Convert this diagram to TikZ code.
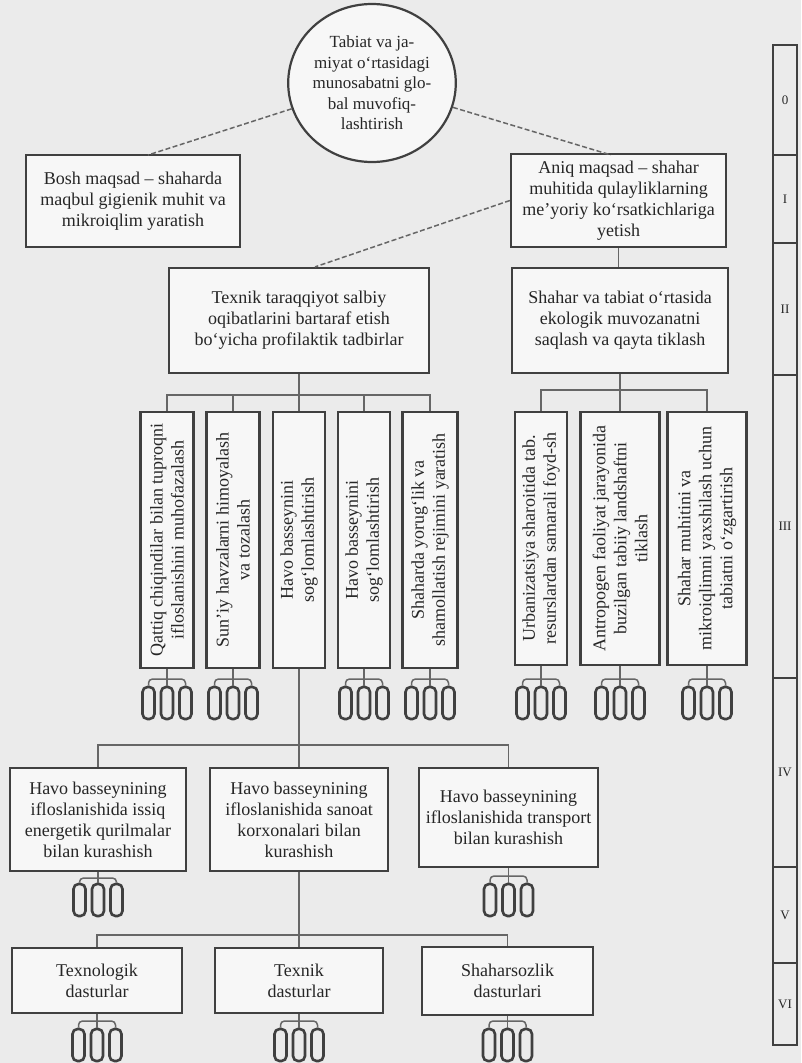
\documentclass[tikz,border=0pt]{standalone}
\usepackage{fontspec}
\setmainfont{Liberation Serif}
\usetikzlibrary{calc,shapes.geometric}
\newcommand\mytrip[5]{%
  \coordinate (#1j) at (#2,#4);
  \node[oval] (#1a) at (#2-18.5,#5) {};
  \node[oval] (#1b) at (#2,#5) {};
  \node[oval] (#1d) at (#2+18.5,#5) {};
  \draw[conn] (#3) -- (#1j);
  \draw[conn, rounded corners=4pt] (#1a.north) |- (#1j) -| (#1d.north);
  \draw[conn] (#1j) -- (#1b.north);
}
\begin{document}
\begin{tikzpicture}[x=1pt,y=-1pt,
  box/.style={draw=black!75, line width=2.2pt, fill=black!3, rectangle, inner sep=2pt, align=center, font=\fontsize{18}{21}\selectfont, text=black!85},
  vbox/.style={box, rotate=90, minimum height=53},
  conn/.style={draw=black!60, line width=1.5pt},
  dconn/.style={conn, dash pattern=on 5pt off 2.5pt},
  oval/.style={draw=black!75, line width=2.6pt, rounded corners=5pt, minimum width=12, minimum height=32, inner sep=0pt},
  scl/.style={draw=black!75, line width=2pt, minimum width=24, inner sep=0pt, font=\fontsize{13}{15}\selectfont, text=black!85}]
\fill[black!8] (0,0) rectangle (801,1063);
\useasboundingbox (0,0) rectangle (801,1063);

% level 0
\node[draw=black!75, line width=2.2pt, fill=black!3, ellipse, minimum width=136, minimum height=158, inner sep=0pt, align=center, font=\fontsize{17}{20.5}\selectfont, text=black!85] (c0) at (372,83) {Tabiat va ja-\\ miyat o‘rtasidagi\\ munosabatni glo-\\ bal muvofiq-\\ lashtirish};

% level I
\node[box, minimum width=214, minimum height=92] (bm) at (133,201) {Bosh maqsad – shaharda\\ maqbul gigienik muhit va\\ mikroiqlim yaratish};
\node[box, minimum width=215, minimum height=93] (am) at (618.5,200.5) {Aniq maqsad – shahar\\ muhitida qulayliklarning\\ me’yoriy ko‘rsatkichlariga\\ yetish};

% level II
\node[box, minimum width=260, minimum height=105] (tt) at (299,320.5) {Texnik taraqqiyot salbiy\\ oqibatlarini bartaraf etish\\ bo‘yicha profilaktik tadbirlar};
\node[box, minimum width=216, minimum height=105] (sb) at (620,320.5) {Shahar va tabiat o‘rtasida\\ ekologik muvozanatni\\ saqlash va qayta tiklash};

% dashed connectors
\coordinate (lbt) at (148,155);
\coordinate (rbt) at (611,155);
\coordinate (x315) at (315,0);
\draw[dconn] (c0) -- (lbt);
\draw[dconn] (c0) -- (rbt);
\draw[dconn] (am.west) -- (tt.north -| x315);
\draw[conn] (am.south) -- (am.south |- sb.north);

% level III
\node[vbox, minimum width=256] (v1) at (167,540) {Qattiq chiqindilar bilan tuproqni\\ ifloslanishini muhofazalash};
\node[vbox, minimum width=256] (v2) at (233,540) {Sun’iy havzalarni himoyalash\\ va tozalash};
\node[vbox, minimum width=256, minimum height=52] (v3) at (299,540) {Havo basseynini\\ sog‘lomlashtirish};
\node[vbox, minimum width=256, minimum height=52] (v4) at (364,540) {Havo basseynini\\ sog‘lomlashtirish};
\node[vbox, minimum width=256, minimum height=55] (v5) at (430,540) {Shaharda yorug‘lik va\\ shamollatish rejimini yaratish};
\node[vbox, minimum width=253, minimum height=52] (v6) at (541,538.5) {Urbanizatsiya sharoitida tab.\\ resurslardan samarali foyd-sh};
\node[vbox, minimum width=253, minimum height=79] (v7) at (620,538.5) {Antropogen faoliyat jarayonida\\ buzilgan tabiiy landshaftni\\ tiklash};
\node[vbox, minimum width=253, minimum height=79] (v8) at (707,538.5) {Shahar muhitini va\\ mikroiqlimni yaxshilash uchun\\ tabiatni o‘zgartirish};

\coordinate (bl) at (299,395);
\draw[conn] (tt.south) -- (bl);
\draw[conn] (v1.east) |- (bl) -| (v5.east);
\draw[conn] (v2.east) -- (v2.east |- bl);
\draw[conn] (v4.east) -- (v4.east |- bl);
\draw[conn] (bl) -- (v3.east);
\coordinate (br) at (620,390);
\draw[conn] (sb.south) -- (br);
\draw[conn] (v6.east) |- (br) -| (v8.east);
\draw[conn] (br) -- (v7.east);

\mytrip{ta}{167}{v1.west}{679}{703}
\mytrip{tb}{233}{v2.west}{679}{703}
\mytrip{tc}{364}{v4.west}{679}{703}
\mytrip{td}{430}{v5.west}{679}{703}
\mytrip{te}{541}{v6.west}{679}{703}
\mytrip{tf}{620}{v7.west}{679}{703}
\mytrip{tg}{707}{v8.west}{679}{703}

% level IV
\node[box, minimum width=176, minimum height=103] (ha) at (98,819.5) {Havo basseynining\\ ifloslanishida issiq\\ energetik qurilmalar\\ bilan kurashish};
\node[box, minimum width=178, minimum height=103] (hb) at (299,819.5) {Havo basseynining\\ ifloslanishida sanoat\\ korxonalari bilan\\ kurashish};
\node[box, minimum width=179, minimum height=99] (hc) at (508.5,817.5) {Havo basseynining\\ ifloslanishida transport\\ bilan kurashish};
\coordinate (b4) at (299,745);
\draw[conn] (v3.west) -- (b4) -- (hb.north);
\draw[conn] (ha.north) |- (b4) -| (hc.north);

\mytrip{th}{98}{ha.south}{878}{900}
\mytrip{ti}{508.5}{hc.south}{876}{900}

% level VI
\node[box, minimum width=170, minimum height=65] (da) at (97,980.5) {Texnologik\\ dasturlar};
\node[box, minimum width=168, minimum height=65] (db) at (299,980.5) {Texnik\\ dasturlar};
\node[box, minimum width=171, minimum height=68] (dc) at (507.5,981) {Shaharsozlik\\ dasturlari};
\coordinate (b6) at (299,935);
\draw[conn] (hb.south) -- (b6) -- (db.north);
\draw[conn] (da.north) |- (b6) -| (dc.north);

\mytrip{tj}{97}{da.south}{1021}{1045}
\mytrip{tk}{299}{db.south}{1021}{1045}
\mytrip{tl}{507.5}{dc.south}{1021}{1045}

% scale
\node[scl, minimum height=110] (s0) at (785,100) {0};
\node[scl, minimum height=88] (s1) at (785,199) {I};
\node[scl, minimum height=132] (s2) at (785,309) {II};
\node[scl, minimum height=303] (s3) at (785,526.5) {III};
\node[scl, minimum height=189] (s4) at (785,772.5) {IV};
\node[scl, minimum height=96] (s5) at (785,915) {V};
\node[scl, minimum height=82] (s6) at (785,1004) {VI};
\end{tikzpicture}
\end{document}
